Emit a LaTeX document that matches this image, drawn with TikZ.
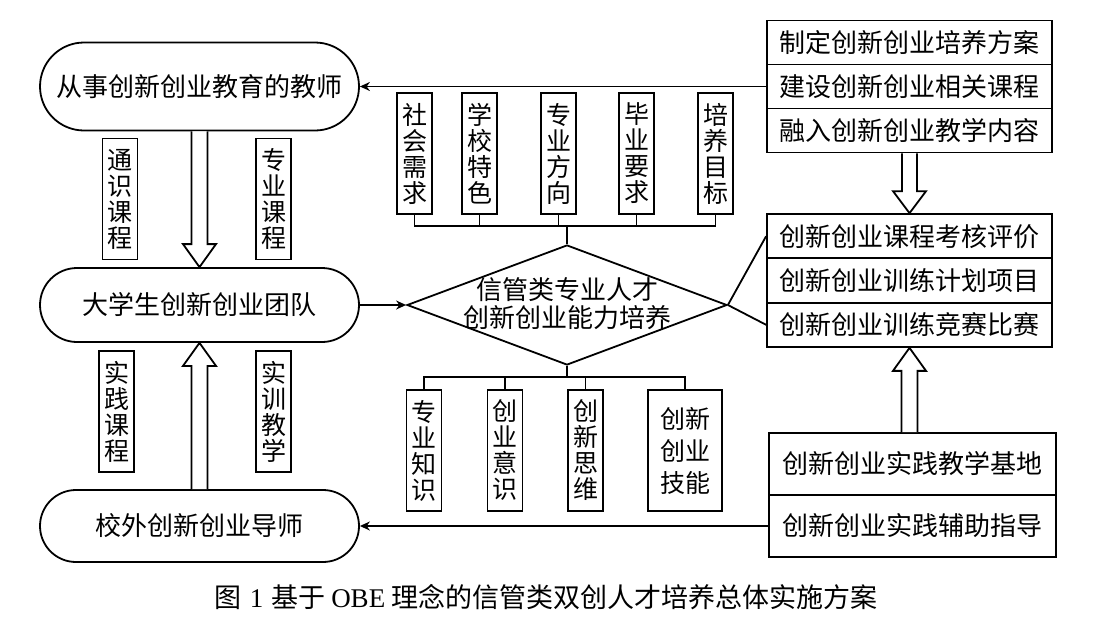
\documentclass[tikz,border=0pt]{standalone}
\usepackage{fontspec}
\setmainfont{Noto Sans CJK SC}
\newfontfamily\latinserif{Liberation Serif}
\usepackage{tikz}
\usetikzlibrary{arrows.meta,shapes.geometric,shapes.misc}

\tikzset{
	vbox/.style={draw,rectangle,minimum width=35pt,minimum height=121pt,inner sep=0pt,align=center,font=\fontsize{25}{26}\selectfont},
	hollow/.style={draw,fill=white,line join=miter}
}

\begin{document}
\begin{tikzpicture}[x=1pt,y=-1pt,line width=1.8pt]
		\useasboundingbox (0,0) rectangle (1100,624);

		% rounded terminals on the left
		\begin{scope}[every node/.style={draw,rounded rectangle,minimum width=319pt,inner sep=0pt,font=\fontsize{26}{28}\selectfont}]
			\node[minimum height=88pt] (T1) at (199.5,86.5) {从事创新创业教育的教师};
			\node[minimum height=74pt] (T2) at (199.5,305) {大学生创新创业团队};
			\node[minimum height=72pt] (T3) at (199.5,526) {校外创新创业导师};
		\end{scope}

		% stacked boxes on the right
		\begin{scope}[every node/.style={draw,rectangle,minimum width=285pt,font=\fontsize{26}{28}\selectfont}]
			\node[minimum height=44pt] (P1) at (909.5,42.5) {制定创新创业培养方案};
			\node[minimum height=44pt] (P2) at (909.5,86.5) {建设创新创业相关课程};
			\node[minimum height=44pt] (P3) at (909.5,130.5) {融入创新创业教学内容};

			\node[minimum height=44.3pt] (E1) at (909.5,236.2) {创新创业课程考核评价};
			\node[minimum height=44.3pt] (E2) at (909.5,280.5) {创新创业训练计划项目};
			\node[minimum height=44.3pt] (E3) at (909.5,324.8) {创新创业训练竞赛比赛};

			\node[minimum width=287pt,minimum height=62pt] (B1) at (912.5,464) {创新创业实践教学基地};
			\node[minimum width=287pt,minimum height=62pt] (B2) at (912.5,526) {创新创业实践辅助指导};
		\end{scope}

		% vertical labels
		\node[vbox] (L1) at (120,199) {通\\识\\课\\程};
		\node[vbox] (L2) at (273.5,199) {专\\业\\课\\程};
		\node[vbox] (L3) at (116.5,411.5) {实\\践\\课\\程};
		\node[vbox] (L4) at (273.5,411.5) {实\\训\\教\\学};

		\node[vbox] (S1) at (414.5,153.5) {社\\会\\需\\求};
		\node[vbox] (S2) at (479.5,153.5) {学\\校\\特\\色};
		\node[vbox] (S3) at (558.5,153.5) {专\\业\\方\\向};
		\node[vbox] (S4) at (636.5,153.5) {毕\\业\\要\\求};
		\node[vbox] (S5) at (715.5,153.5) {培\\养\\目\\标};

		\node[vbox] (K1) at (424,450.5) {专\\业\\知\\识};
		\node[vbox] (K2) at (505,450.5) {创\\业\\意\\识};
		\node[vbox] (K3) at (585.5,450.5) {创\\新\\思\\维};
		\node[vbox,minimum width=74pt,font=\fontsize{25}{32}\selectfont] (K4) at (685,450.5) {创新\\创业\\技能};

		% centre diamond
		\node[draw,diamond,minimum width=320pt,minimum height=120pt,inner sep=0pt] (D) at (567,305) {};
		\node[align=center,font=\fontsize{26}{28}\selectfont] (Dt) at (567,304) {信管类专业人才\\创新创业能力培养};

		% combs above and below the diamond
		\coordinate (tc) at (567,226);
		\coordinate (bc) at (567,377);
		\draw (S1.south) -- (S1.south |- tc) -- (S5.south |- tc) -- (S5.south);
		\foreach \i in {2,3,4}
			\draw (S\i.south) -- (S\i.south |- tc);
		\draw (D.north) -- (tc);
		\draw (K1.north) -- (K1.north |- bc) -- (K4.north |- bc) -- (K4.north);
		\foreach \i in {2,3}
			\draw (K\i.north) -- (K\i.north |- bc);
		\draw (D.south) -- (bc);

		% hollow arrows
		\draw[hollow] ([xshift=-8pt]T1.south) -- ([xshift=-8pt,yshift=23pt]T2.north) -- ([xshift=-16.5pt,yshift=23pt]T2.north) -- (T2.north)
			-- ([xshift=16.5pt,yshift=23pt]T2.north) -- ([xshift=8pt,yshift=23pt]T2.north) -- ([xshift=8pt]T1.south);
		\draw[hollow] ([xshift=-8pt]T3.north) -- ([xshift=-8pt,yshift=-23pt]T2.south) -- ([xshift=-16.5pt,yshift=-23pt]T2.south) -- (T2.south)
			-- ([xshift=16.5pt,yshift=-23pt]T2.south) -- ([xshift=8pt,yshift=-23pt]T2.south) -- ([xshift=8pt]T3.north);
		\draw[hollow] ([xshift=-7.5pt]P3.south) -- ([xshift=-7.5pt,yshift=22pt]E1.north) -- ([xshift=-16.5pt,yshift=22pt]E1.north) -- (E1.north)
			-- ([xshift=16.5pt,yshift=22pt]E1.north) -- ([xshift=7.5pt,yshift=22pt]E1.north) -- ([xshift=7.5pt]P3.south);
		\coordinate (ua) at (E3.south |- B1.north);
		\draw[hollow] ([xshift=-8pt]ua) -- ([xshift=-8pt,yshift=-23pt]E3.south) -- ([xshift=-16.5pt,yshift=-23pt]E3.south) -- (E3.south)
			-- ([xshift=16.5pt,yshift=-23pt]E3.south) -- ([xshift=8pt,yshift=-23pt]E3.south) -- ([xshift=8pt]ua);

		\begin{scope}[>={Stealth[length=10pt,width=9pt]}]
			\path [->] (P2.west) edge (T1.east);
			\path [->] (B2.west) edge (T3.east);
			\path [->] (T2.east) edge (D.west);
			\path (D.east) edge (E1.west);
			\path (D.east) edge (E3.west);
		\end{scope}

		% caption
		\node[font=\fontsize{27}{29}\selectfont] (cap) at (546,597) {图\hspace{8pt}{\latinserif 1}\hspace{8pt}基于\hspace{6pt}{\latinserif OBE}\hspace{6pt}理念的信管类双创人才培养总体实施方案};
\end{tikzpicture}
\end{document}
